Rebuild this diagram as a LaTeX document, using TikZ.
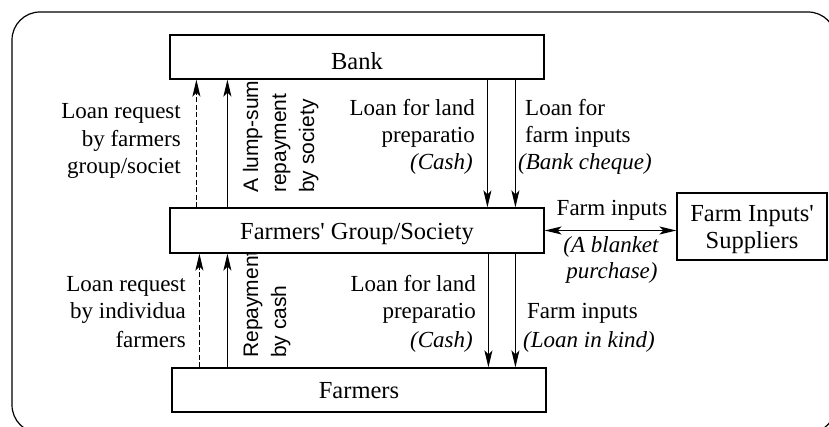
\documentclass[tikz,border=0pt]{standalone}
\usepackage{fontspec}
\setmainfont{Liberation Serif}
\setsansfont{Liberation Sans}
\usetikzlibrary{arrows.meta}
\begin{document}
\begin{tikzpicture}[x=1pt,y=-1pt,
  box/.style={draw, line width=1.2pt, fill=white, inner sep=0pt},
  lbl/.style={font=\fontsize{23}{28}\selectfont, inner sep=0pt},
  ilbl/.style={inner sep=0pt, font=\fontsize{23}{28}\selectfont\itshape},
  btxt/.style={font=\fontsize{24.5}{29}\selectfont, inner sep=0pt},
  rot/.style={font=\sffamily\fontsize{21}{25}\selectfont, inner sep=0pt, rotate=90, anchor=base west},
  tip/.tip={Stealth[length=17pt,width=8pt,inset=4pt]},
  flow/.style={line width=1.5pt, -tip},
  dflow/.style={flow, dash pattern=on 5pt off 2.5pt},
]
\useasboundingbox (0,0) rectangle (829,427);
\draw[line width=1.2pt, rounded corners=28pt] (12,12) rectangle (836,433);

% rotated text partly hidden under the society box
\node[rot] (rp1) at (258,358) {Repayment};
\node[rot] (rp2) at (286,358) {by cash};

% boxes
\node[box, minimum width=374pt, minimum height=44pt] (bank) at (357,57) {};
\node[box, minimum width=374pt, minimum height=45pt] (soc) at (357,230.5) {};
\node[box, minimum width=374pt, minimum height=44pt] (farm) at (359,390) {};
\node[box, minimum width=150pt, minimum height=67pt] (sup) at (752,226.5) {};

\node[btxt, anchor=base] (bankt) at (357,70) {Bank};
\node[btxt, anchor=base] (soct) at (357,240) {Farmers\textquotesingle{} Group/Society};
\node[btxt, anchor=base] (farmt) at (359,398) {Farmers};
\node[btxt, anchor=base] (sup1) at (752,222) {Farm Inputs\textquotesingle};
\node[btxt, anchor=base] (sup2) at (752,249) {Suppliers};

% upper arrows
\draw[dflow] ([xshift=27pt]soc.north west) -- ([xshift=27pt]bank.south west);
\draw[flow] ([xshift=58pt]soc.north west) -- ([xshift=58pt]bank.south west);
\draw[flow] ([xshift=318pt]bank.south west) -- ([xshift=318pt]soc.north west);
\draw[flow] ([xshift=346pt]bank.south west) -- ([xshift=346pt]soc.north west);

% lower arrows
\draw[dflow] ([xshift=28pt]farm.north west) -- ([xshift=30pt]soc.south west);
\draw[flow] ([xshift=56pt]farm.north west) -- ([xshift=58pt]soc.south west);
\draw[flow] ([xshift=319pt]soc.south west) -- ([xshift=317pt]farm.north west);
\draw[flow] ([xshift=346pt]soc.south west) -- ([xshift=344pt]farm.north west);

% double arrow
\draw[line width=1.5pt, tip-tip] (soc.east) -- (soc.east -| sup.west);

% upper labels
\node[lbl, anchor=base east] (ul1) at (181,119) {Loan request};
\node[lbl, anchor=base east] (ul2) at (181,147) {by farmers};
\node[lbl, anchor=base east] (ul3) at (181,174) {group/societ};

\node[rot] (ur1) at (258,193) {A lump-sum};
\node[rot] (ur2) at (286,193) {repayment};
\node[rot] (ur3) at (314,193) {by society};

\node[lbl, anchor=base east] (um1) at (475,116) {Loan for land};
\node[lbl, anchor=base east] (um2) at (475,143) {preparatio};
\node[ilbl, anchor=base east] (um3) at (473,170) {(Cash)};

\node[lbl, anchor=base west] (uq1) at (525,116) {Loan for};
\node[lbl, anchor=base west] (uq2) at (525,143) {farm inputs};
\node[ilbl, anchor=base west] (uq3) at (518,170) {(Bank cheque)};

% middle labels
\node[lbl, anchor=base] (fi1) at (612,216) {Farm inputs};
\node[ilbl, anchor=base] (fi2) at (611,253) {(A blanket};
\node[ilbl, anchor=base] (fi3) at (612,279) {purchase)};

% lower labels
\node[lbl, anchor=base east] (ll1) at (186,291) {Loan request};
\node[lbl, anchor=base east] (ll2) at (186,319) {by individua};
\node[lbl, anchor=base east] (ll3) at (186,347) {farmers};

\node[lbl, anchor=base east] (lm1) at (476,291) {Loan for land};
\node[lbl, anchor=base east] (lm2) at (476,319) {preparatio};
\node[ilbl, anchor=base east] (lm3) at (473,347) {(Cash)};

\node[lbl, anchor=base west] (lq1) at (527,319) {Farm inputs};
\node[ilbl, anchor=base west] (lq2) at (523,347) {(Loan in kind)};
\end{tikzpicture}
\end{document}
